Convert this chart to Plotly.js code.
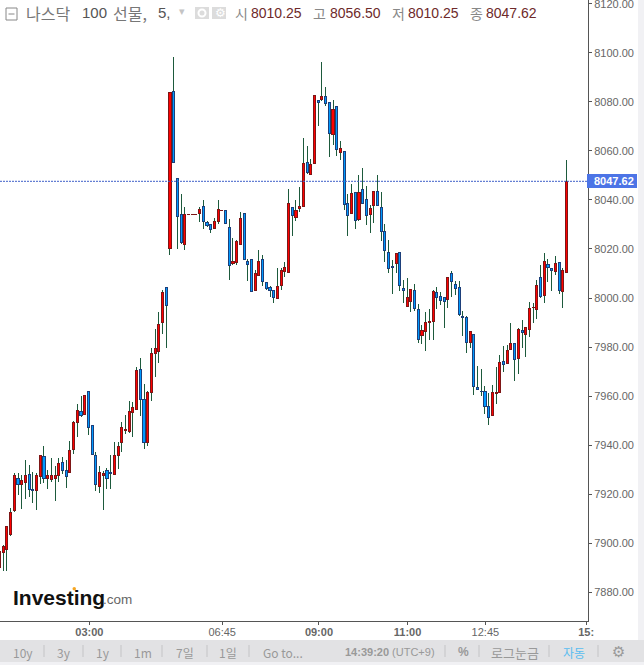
<!DOCTYPE html>
<html><head><meta charset="utf-8">
<script src="https://cdn.plot.ly/plotly-3.0.1.min.js"></script>
<style>html,body{margin:0;padding:0;background:#fff}#c{width:644px;height:665px}
#c .barlayer path{shape-rendering:crispEdges !important}</style>
</head><body><div id="c"></div>
<script>
const opens=[7890.1,7896.1,7897.4,7903.7,7913.2,7926.4,7923.8,7924.6,7928,7921.9,
7921.3,7927,7935.5,7926.5,7926,7926.5,7927.5,7932.9,7929.7,7928.7,
7938.2,7949.1,7953.8,7952.4,7961.9,7947.8,7935.8,7923,7927.5,7929.5,
7928.9,7927.9,7935.6,7941,7946.1,7945.4,7953.2,7954.6,7970.9,7958.6,
7941,7961.5,7977.4,7978.2,7989.9,8004.4,8020.1,8084.3,8048.8,8034.1,
8021.7,8033.9,8033.9,8033.9,8034.4,8037.4,8030.9,8029.9,8028.3,8031.1,
8035.7,8035.8,8028.8,8014,8014.4,8021.7,8034.5,8014.9,8015.8,8003,
8009.1,8015.8,8006.2,8004.3,8003.1,7999.7,8005,8010.7,8010.5,8037,
8032.8,8036.4,8037.3,8055.3,8050.6,8054.9,8080.6,8080.9,8082.3,8079.8,
8066.8,8078.2,8059.3,8059.8,8038.6,8034.4,8043.1,8031.9,8044.3,8040.2,
8034,8037.7,8043.5,8037,8027.2,8018.6,8012.7,8014,8018.6,8003.9,
7996.4,7998.5,8003.1,7995.3,7984.6,7986.2,7989.9,7990.3,8002.3,8000.6,
8000.3,7999.4,8010.1,8005.6,8004.3,7992.5,7992.1,7981.8,7985.2,7963.5,
7962,7961.9,7955.8,7952.1,7961.1,7961.5,7974.1,7973.3,7979,7981.5,
7975.2,7986.8,7985,7987.2,7996.1,7995.4,8008.4,8000.9,8013.7,8012.1,
8010.9,8014.5,8002.7,8010.25];
const closes=[7896.5,7898.8,7906.9,7912.5,7927.4,7923.8,7925.7,7927.4,7921.8,7921.3,
7927.4,7935.9,7926.3,7927.4,7927.4,7927.4,7932.5,7929.5,7927,7937.8,
7949.4,7954.2,7952,7960.3,7947.1,7936.2,7924,7928.9,7928.4,7926.3,
7928.3,7935.8,7939.5,7947.2,7946.5,7953.8,7955.4,7970.5,7958.5,7941,
7961.5,7977.4,7979.5,7989.3,8002.3,7997,8083.9,8055.3,8033.2,8022.6,
8034.1,8034.1,8034.1,8034.1,8036.3,8031.1,8029.5,8027.9,8031.3,8036.2,
8035.9,8030.3,8013.3,8014.9,8023.1,8032.5,8015.8,8013.6,8002.6,8010,
8014.9,8006.6,8003.8,8003,8000.1,8004.7,8011.3,8012.5,8038.6,8033.6,
8035.8,8037.4,8054.9,8051.1,8054.5,8082.7,8079.7,8082.3,8079.3,8067,
8077,8060.7,8061,8038.2,8033.6,8042.7,8031.5,8043.1,8038.5,8033.6,
8036.6,8043.5,8037.7,8027,8019.3,8011.9,8012.4,8018.2,8005,8003,
8000.3,8003.5,7995.6,7983.1,7986.8,7990,7990.4,8002.7,8000.3,7999,
7998.5,8008.4,8006.7,8003.9,7993.2,7992,7981.8,7986.4,7963.9,7962.7,
7961.8,7955.8,7951.3,7961.5,7961.5,7973.7,7972.9,7978.6,7981.5,7975,
7987.2,7986,7988,7995.8,7996.3,8005.2,8000.7,8015,8012.5,8011.3,
8014.1,8003.1,8011.3,8047.62];
const highs=[7896.5,7899.2,7906.9,7914.2,7928.7,7928.7,7927.8,7933.9,7931.9,7929.1,
7928.4,7935.9,7939.7,7929.8,7934.8,7931.4,7934.8,7935.2,7933.9,7941.6,
7949.8,7956.7,7960.2,7960.3,7961.9,7948.2,7937.2,7931.4,7929.5,7930.8,
7935.9,7941.2,7941.2,7949.4,7952.4,7958,7957.6,7971.7,7975.5,7964.8,
7961.9,7979.5,7987.3,7994.3,8003.3,8004.4,8083.9,8098.3,8048.8,8042.4,
8037.1,8034.2,8034.2,8034.2,8037.1,8040,8031.4,8029.9,8032.6,8040,
8036,8035.8,8032.2,8024.5,8023.6,8034.9,8034.5,8015.8,8015.8,8011.4,
8019.6,8017.5,8006.2,8004.9,8003.4,8012.1,8012.1,8014.5,8044.3,8037,
8040,8045.3,8065.1,8061.9,8056.7,8082.7,8081,8096.3,8085.9,8079.8,
8080.6,8078.2,8063.9,8059.8,8042.3,8046.4,8043.1,8050,8053,8045.9,
8037.9,8043.5,8050,8043.2,8030.2,8023.5,8015.5,8018.2,8018.6,8007.3,
8008,8003.5,8005.9,7997.5,7988.8,7994.2,7995.5,8003.1,8004.3,8002.4,
8000.3,8008.4,8011,8006.9,8006.9,7994.5,7992.5,7986.4,7985.2,7972.2,
7971,7964.1,7961.2,7964.5,7971.8,7976.7,7980.4,7980.8,7989.9,7981.5,
7987.7,7991,7988,7998.4,7998,8007.3,8013.5,8018.4,8015.9,8012.1,
8017.1,8014.5,8012.2,8056.5];
const lows=[7888.7,7888.7,7888.7,7902.9,7912.8,7919.6,7914,7918.1,7918.6,7916.2,
7913.6,7924,7924.6,7922.2,7925,7917.3,7925,7928.2,7922.5,7928.7,
7936.5,7943.4,7951.6,7952.4,7944.1,7936.2,7921.3,7920.6,7913.6,7922,
7922,7927.9,7930.3,7937.3,7944.5,7944.9,7943.4,7954.6,7952,7938.5,
7939.7,7958.1,7967.9,7973.6,7985.5,7979.7,8017.7,8055.3,8020.1,8022.2,
8019.7,8033.9,8033.9,8033.9,8031.1,8028.3,8029.1,8026.6,8028.3,8030.3,
8035.6,8030.3,8007.5,8013.6,8013.6,8021.7,8015.8,8007.1,8002.6,8003,
8009.1,8005,8003.4,8000.5,7998.1,7999.7,8003.4,8008.7,8010.5,8025.4,
8031.5,8035.2,8037.3,8050.7,8050.3,8054.9,8070.3,8080.5,8078.5,8057.7,
8062.5,8058.1,8056.4,8036,8025.4,8034.4,8028.3,8031.5,8038.5,8029.9,
8026.6,8030.7,8037.7,8023.4,8014.7,8010.3,8001.7,8010.2,8003,7998.1,
7996.4,7994.4,7994.8,7981.7,7981.3,7978.5,7983,7983,7995.6,7997.2,
7987.9,7996,8000.5,8001.4,7992.8,7984.6,7977.7,7979.7,7960.5,7962.7,
7960.1,7952.8,7948.3,7952.1,7956.9,7961.5,7969.9,7973.3,7979,7966.3,
7969.1,7979.6,7976,7984.2,7989.9,7991.6,7999.9,7998.1,8006.7,8003,
8009.5,8001.8,7996,8010.25];
const tickPositions=[24.24,60.1,86.2,110.1,131.1,158.3];
const tickLabels=['<b>03:00</b>','06:45','<b>09:00</b>','<b>11:00</b>','12:45','<b>15:</b>'];
const lastPrice=8047.62;
const headerValues={시:'8010.25',고:'8056.50',저:'8010.25',종:'8047.62'};

const W=588,H=621;
const X=p=>p/W, Y=p=>(H-p)/H;
const idx=opens.map((_,i)=>i);
const up=idx.filter(i=>closes[i]>=opens[i]);
const dn=idx.filter(i=>closes[i]<opens[i]);
const KR='"Noto Sans CJK KR","Liberation Sans",sans-serif';
const LS='"Liberation Sans",Arial,sans-serif';

const wick={type:'bar',x:idx,base:lows,y:idx.map(i=>highs[i]-lows[i]),width:0.27,
  marker:{color:'#1d5a3c',line:{width:0}},hoverinfo:'skip'};
const body=(ids,fill,edge)=>({type:'bar',x:ids,
  base:ids.map(i=>Math.min(opens[i],closes[i])),
  y:ids.map(i=>Math.abs(opens[i]-closes[i])),
  width:0.56,marker:{color:fill,line:{color:edge,width:1}},hoverinfo:'skip'});

function txt(s,px,py,o={}){return Object.assign({text:s,xref:'paper',yref:'paper',x:X(px),y:Y(py),
  xanchor:o.a||'left',yanchor:'middle',showarrow:false,
  font:{family:o.f||KR,size:o.s||12,color:o.c||'#666'}},o.extra||{});}
function rect(x0,y0,x1,y1,fill,line){return {type:'rect',xref:'paper',yref:'paper',x0:X(x0),x1:X(x1),y0:Y(y0),y1:Y(y1),
  fillcolor:fill,line:line||{width:0},layer:'above'};}
function vline(x,y0,y1,c){return {type:'line',xref:'paper',yref:'paper',x0:X(x),x1:X(x),y0:Y(y0),y1:Y(y1),line:{color:c,width:1},layer:'above'};}

const shapes=[
 rect(638,0,644,665,'#f1f1f4'),
 rect(0,640,644,662,'#e2e2e4'),
 rect(0,662,644,665,'#f1f1f4'),
 {type:'line',xref:'paper',yref:'y',x0:0,x1:1,y0:lastPrice,y1:lastPrice,line:{color:'#3f5fc8',width:1,dash:'2px,1px'},layer:'above'},
 rect(587,174,637,188,'#4c74e6'),
 rect(6,8,17,20,'rgba(0,0,0,0)',{color:'#888',width:1}),
 {type:'line',xref:'paper',yref:'paper',x0:X(8.5),x1:X(14.5),y0:Y(14),y1:Y(14),line:{color:'#888',width:1},layer:'above'},
 rect(195,7,209,19,'#dcdcdc'),
 rect(212,7,226,19,'#dcdcdc'),
 {type:'circle',xref:'paper',yref:'paper',x0:X(198.5),x1:X(205.5),y0:Y(9.5),y1:Y(16.5),fillcolor:'rgba(0,0,0,0)',line:{color:'#fff',width:2},layer:'above'},
 {type:'circle',xref:'paper',yref:'paper',x0:X(72.5),x1:X(76),y0:Y(587),y1:Y(590.5),fillcolor:'#f5a623',line:{width:0},layer:'above'}
];
[44,83,121,162,207,249,445,479,549,598].forEach(x=>shapes.push(vline(x,645,657,'#c4c4c6')));

const annotations=[
 txt('나스닥',24,13,{s:16,c:'#777'}),
 txt('100',80,13,{s:15,c:'#555',f:LS}),
 txt('선물,',111,13,{s:16,c:'#777'}),
 txt('5,',156,13,{s:15,c:'#555',f:LS}),
 txt('▾',177,12,{s:11,c:'#c4c4c4',f:'"DejaVu Sans"'}),
 txt('⚙',213,13,{s:12,c:'#fff',f:'"DejaVu Sans"'}),
 txt('시',233,13,{s:14,c:'#888'}),
 txt(headerValues['시'],249,13,{s:14,c:'#6e2a2a',f:LS}),
 txt('고',311,13,{s:14,c:'#888'}),
 txt(headerValues['고'],328,13,{s:14,c:'#6e2a2a',f:LS}),
 txt('저',390,13,{s:14,c:'#888'}),
 txt(headerValues['저'],406,13,{s:14,c:'#6e2a2a',f:LS}),
 txt('종',468,13,{s:14,c:'#888'}),
 txt(headerValues['종'],484,13,{s:14,c:'#6e2a2a',f:LS}),
 txt('<b>8047.62</b>',614,181,{a:'center',s:11,c:'#fff',f:LS}),
 txt('<b>Investing</b>',11,597.5,{s:21,c:'#111',f:LS}),
 txt('.com',101,599.5,{s:13.5,c:'#666',f:LS})
];
[['10y',23],['3y',64],['1y',103],['1m',143],['7일',185],['1일',228],['Go to...',283]].forEach(a=>
  annotations.push(txt(a[0],a[1],652,{a:'center',s:12,c:'#999'})));
annotations.push(txt('<b>14:39:20</b> (UTC+9)',343,652,{s:11,c:'#999',f:LS}));
annotations.push(txt('<b>%</b>',463,652,{a:'center',s:12,c:'#999',f:LS}));
annotations.push(txt('로그눈금',515,652,{a:'center',s:13,c:'#999'}));
annotations.push(txt('자동',574,652,{a:'center',s:12,c:'#59bdf0'}));
annotations.push(txt('⚙',618,652,{a:'center',s:15,c:'#999',f:'"DejaVu Sans"'}));

Plotly.newPlot('c',[wick,body(up,'#ff0000','#7d1616'),body(dn,'#0099ff','#1d3f7a')],{
  width:644,height:665,margin:{l:0,r:56,t:0,b:44,pad:0},
  paper_bgcolor:'#fff',plot_bgcolor:'#fff',showlegend:false,barmode:'overlay',
  xaxis:{range:[0.135,158.8],tickmode:'array',tickvals:tickPositions,ticktext:tickLabels,
    showgrid:false,zeroline:false,showline:true,linecolor:'#555',linewidth:1,ticklabelstandoff:-2,
    ticks:'outside',ticklen:3,tickcolor:'#555',tickfont:{family:LS,size:11,color:'#666'},tickangle:0},
  yaxis:{side:'right',range:[7868.2,8121.6],dtick:20,tick0:7880,tickformat:'.2f',ticklabeloverflow:'allow',
    showgrid:false,zeroline:false,showline:true,linecolor:'#555',linewidth:1,
    ticks:'outside',ticklen:3,tickcolor:'#555',tickfont:{family:LS,size:11,color:'#666'}},
  shapes,annotations
},{displayModeBar:false,staticPlot:true});
</script></body></html>
